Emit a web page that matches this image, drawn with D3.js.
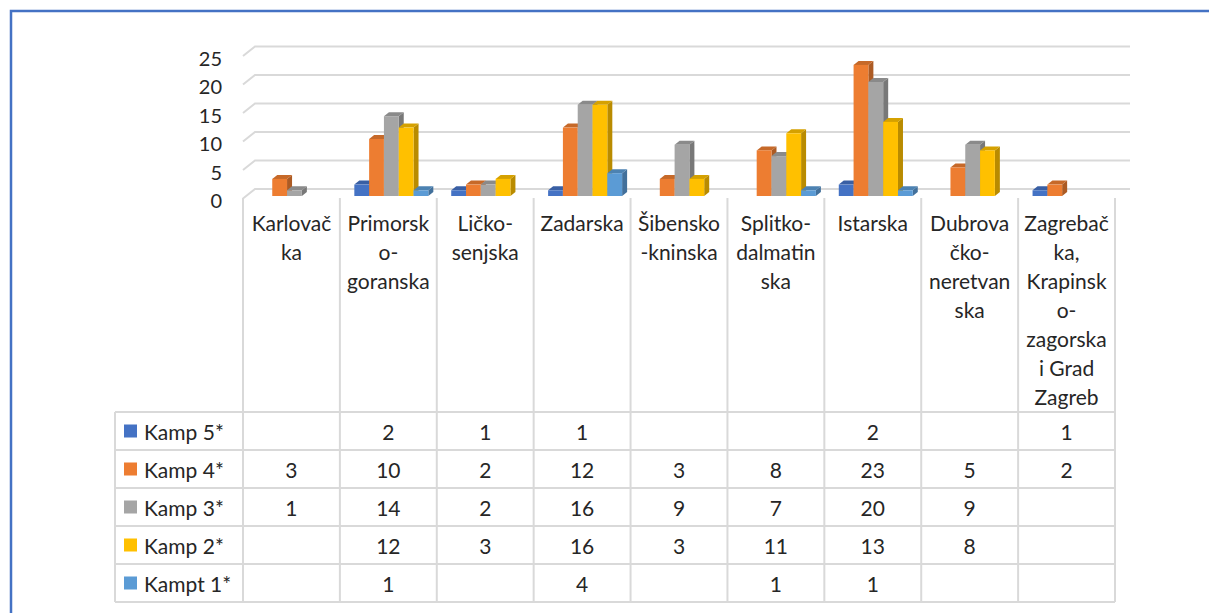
<!DOCTYPE html>
<html lang="hr">
<head>
<meta charset="utf-8">
<title>Kampovi po županijama</title>
<script src="https://d3js.org/d3.v7.min.js"></script>
<style>
  body { margin: 0; background: #fff; }
  svg { display: block; font-family: Lato, "Open Sans", sans-serif; }
</style>
</head>
<body>
<svg id="chart" width="1209" height="613"></svg>
<script>
// categories (wrapped the way the original table header wraps them)
var categories = [
  ["Karlovač", "ka"],
  ["Primorsk", "o-", "goranska"],
  ["Ličko-", "senjska"],
  ["Zadarska"],
  ["Šibensko", "-kninska"],
  ["Splitko-", "dalmatin", "ska"],
  ["Istarska"],
  ["Dubrova", "čko-", "neretvan", "ska"],
  ["Zagrebač", "ka,", "Krapinsk", "o-", "zagorska", "i Grad", "Zagreb"]
];
var seriesNames = ["Kamp 5*", "Kamp 4*", "Kamp 3*", "Kamp 2*", "Kampt 1*"];
var kamp5 = [null, 2, 1, 1, null, null, 2, null, 1];
var kamp4 = [3, 10, 2, 12, 3, 8, 23, 5, 2];
var kamp3 = [1, 14, 2, 16, 9, 7, 20, 9, null];
var kamp2 = [null, 12, 3, 16, 3, 11, 13, 8, null];
var kampt1 = [null, 1, null, 4, null, 1, 1, null, null];
var seriesValues = [kamp5, kamp4, kamp3, kamp2, kampt1];
var seriesColors = ["#4472C4", "#ED7D31", "#A5A5A5", "#FFC000", "#5B9BD5"];
var yTicks = [0, 5, 10, 15, 20, 25];

var svg = d3.select("#chart");
var textColor = "#262626";
var gridColor = "#d9d9d9";

// outer frame (only left and top edge are visible in the crop)
svg.append("path")
  .attr("d", "M11,613 V11 H1209")
  .attr("fill", "none")
  .attr("stroke", "#4472C4")
  .attr("stroke-width", 2.5);

var idx = d3.range(categories.length);
var x = d3.scaleBand().domain(idx).range([243, 1115]);
var bw = x.bandwidth();
var y = d3.scaleLinear().domain([0, 25]).range([196, 53.5]);

// floor depth of the 3D plot
var floorDx = 12, floorDy = -9.5;

// gridlines: back wall + little diagonal at the left
var grid = svg.append("g");
yTicks.forEach(function(t) {
  var yb = y(t) - 7;
  grid.append("path")
    .attr("d", "M" + 243 + "," + (yb - floorDy) + " L" + (243 + floorDx) + "," + yb + " H1130")
    .attr("fill", "none")
    .attr("stroke", gridColor)
    .attr("stroke-width", 2);
});

// y labels
svg.append("g").selectAll("text").data(yTicks).join("text")
  .attr("x", 222)
  .attr("y", function(d) { return y(d) + 4; })
  .attr("text-anchor", "end")
  .attr("dominant-baseline", "central")
  .attr("font-size", 20)
  .attr("fill", textColor)
  .text(function(d) { return d; });

// bars
var inner = d3.scaleBand().domain(d3.range(seriesNames.length))
  .range([(bw - 74) / 2 + 3, (bw + 74) / 2 + 3]);
var bdx = 5, bdy = -4;
var barsG = svg.append("g");
idx.forEach(function(ci) {
  seriesValues.forEach(function(vals, si) {
    var v = vals[ci];
    if (v == null) return;
    var x0 = x(ci) + inner(si), x1 = x0 + inner.bandwidth();
    var y0 = y(0), y1 = y(v);
    var c = d3.color(seriesColors[si]);
    var g = barsG.append("g");
    g.append("polygon") // side
      .attr("points", [[x1, y1], [x1 + bdx, y1 + bdy], [x1 + bdx, y0 + bdy], [x1, y0]].join(" "))
      .attr("fill", c.darker(0.9));
    g.append("polygon") // top
      .attr("points", [[x0, y1], [x0 + bdx, y1 + bdy], [x1 + bdx, y1 + bdy], [x1, y1]].join(" "))
      .attr("fill", c.darker(0.5));
    g.append("rect")
      .attr("x", x0).attr("y", y1)
      .attr("width", x1 - x0).attr("height", y0 - y1)
      .attr("fill", c);
  });
});

// data table
var rowTop = 412, rowH = 38, tableLeft = 115;
var tbl = svg.append("g").attr("stroke", gridColor).attr("stroke-width", 2).attr("fill", "none");
d3.range(seriesNames.length + 1).forEach(function(r) {
  tbl.append("line")
    .attr("x1", tableLeft).attr("x2", 1115)
    .attr("y1", rowTop + r * rowH).attr("y2", rowTop + r * rowH);
});
tbl.append("line").attr("x1", tableLeft).attr("x2", tableLeft)
  .attr("y1", rowTop).attr("y2", rowTop + seriesNames.length * rowH);
idx.concat([categories.length]).forEach(function(ci) {
  var xx = ci < categories.length ? x(ci) : 1115;
  tbl.append("line").attr("x1", xx).attr("x2", xx)
    .attr("y1", 198).attr("y2", rowTop + seriesNames.length * rowH);
});

// header labels
var head = svg.append("g");
categories.forEach(function(lines, ci) {
  head.append("text")
    .attr("x", x(ci) + bw / 2)
    .attr("text-anchor", "middle")
    .attr("font-size", 21)
    .attr("fill", textColor)
    .selectAll("tspan").data(lines).join("tspan")
    .attr("x", x(ci) + bw / 2)
    .attr("y", function(d, i) { return 222 + i * 29; })
    .attr("dominant-baseline", "central")
    .text(function(d) { return d; });
});

// legend column + values
seriesNames.forEach(function(name, si) {
  var cy = rowTop + si * rowH + rowH / 2;
  svg.append("rect")
    .attr("x", 124).attr("y", cy - 6.5)
    .attr("width", 13).attr("height", 13)
    .attr("fill", seriesColors[si]);
  svg.append("text")
    .attr("x", 144).attr("y", cy)
    .attr("dominant-baseline", "central")
    .attr("font-size", 21)
    .attr("fill", textColor)
    .text(name);
  var cells = seriesValues[si]
    .map(function(v, i) { return { v: v, i: i }; })
    .filter(function(d) { return d.v != null; });
  svg.append("g").selectAll("text").data(cells).join("text")
    .attr("x", function(d) { return x(d.i) + bw / 2; })
    .attr("y", cy)
    .attr("text-anchor", "middle")
    .attr("dominant-baseline", "central")
    .attr("font-size", 21)
    .attr("fill", textColor)
    .text(function(d) { return d.v; });
});
</script>
</body>
</html>
